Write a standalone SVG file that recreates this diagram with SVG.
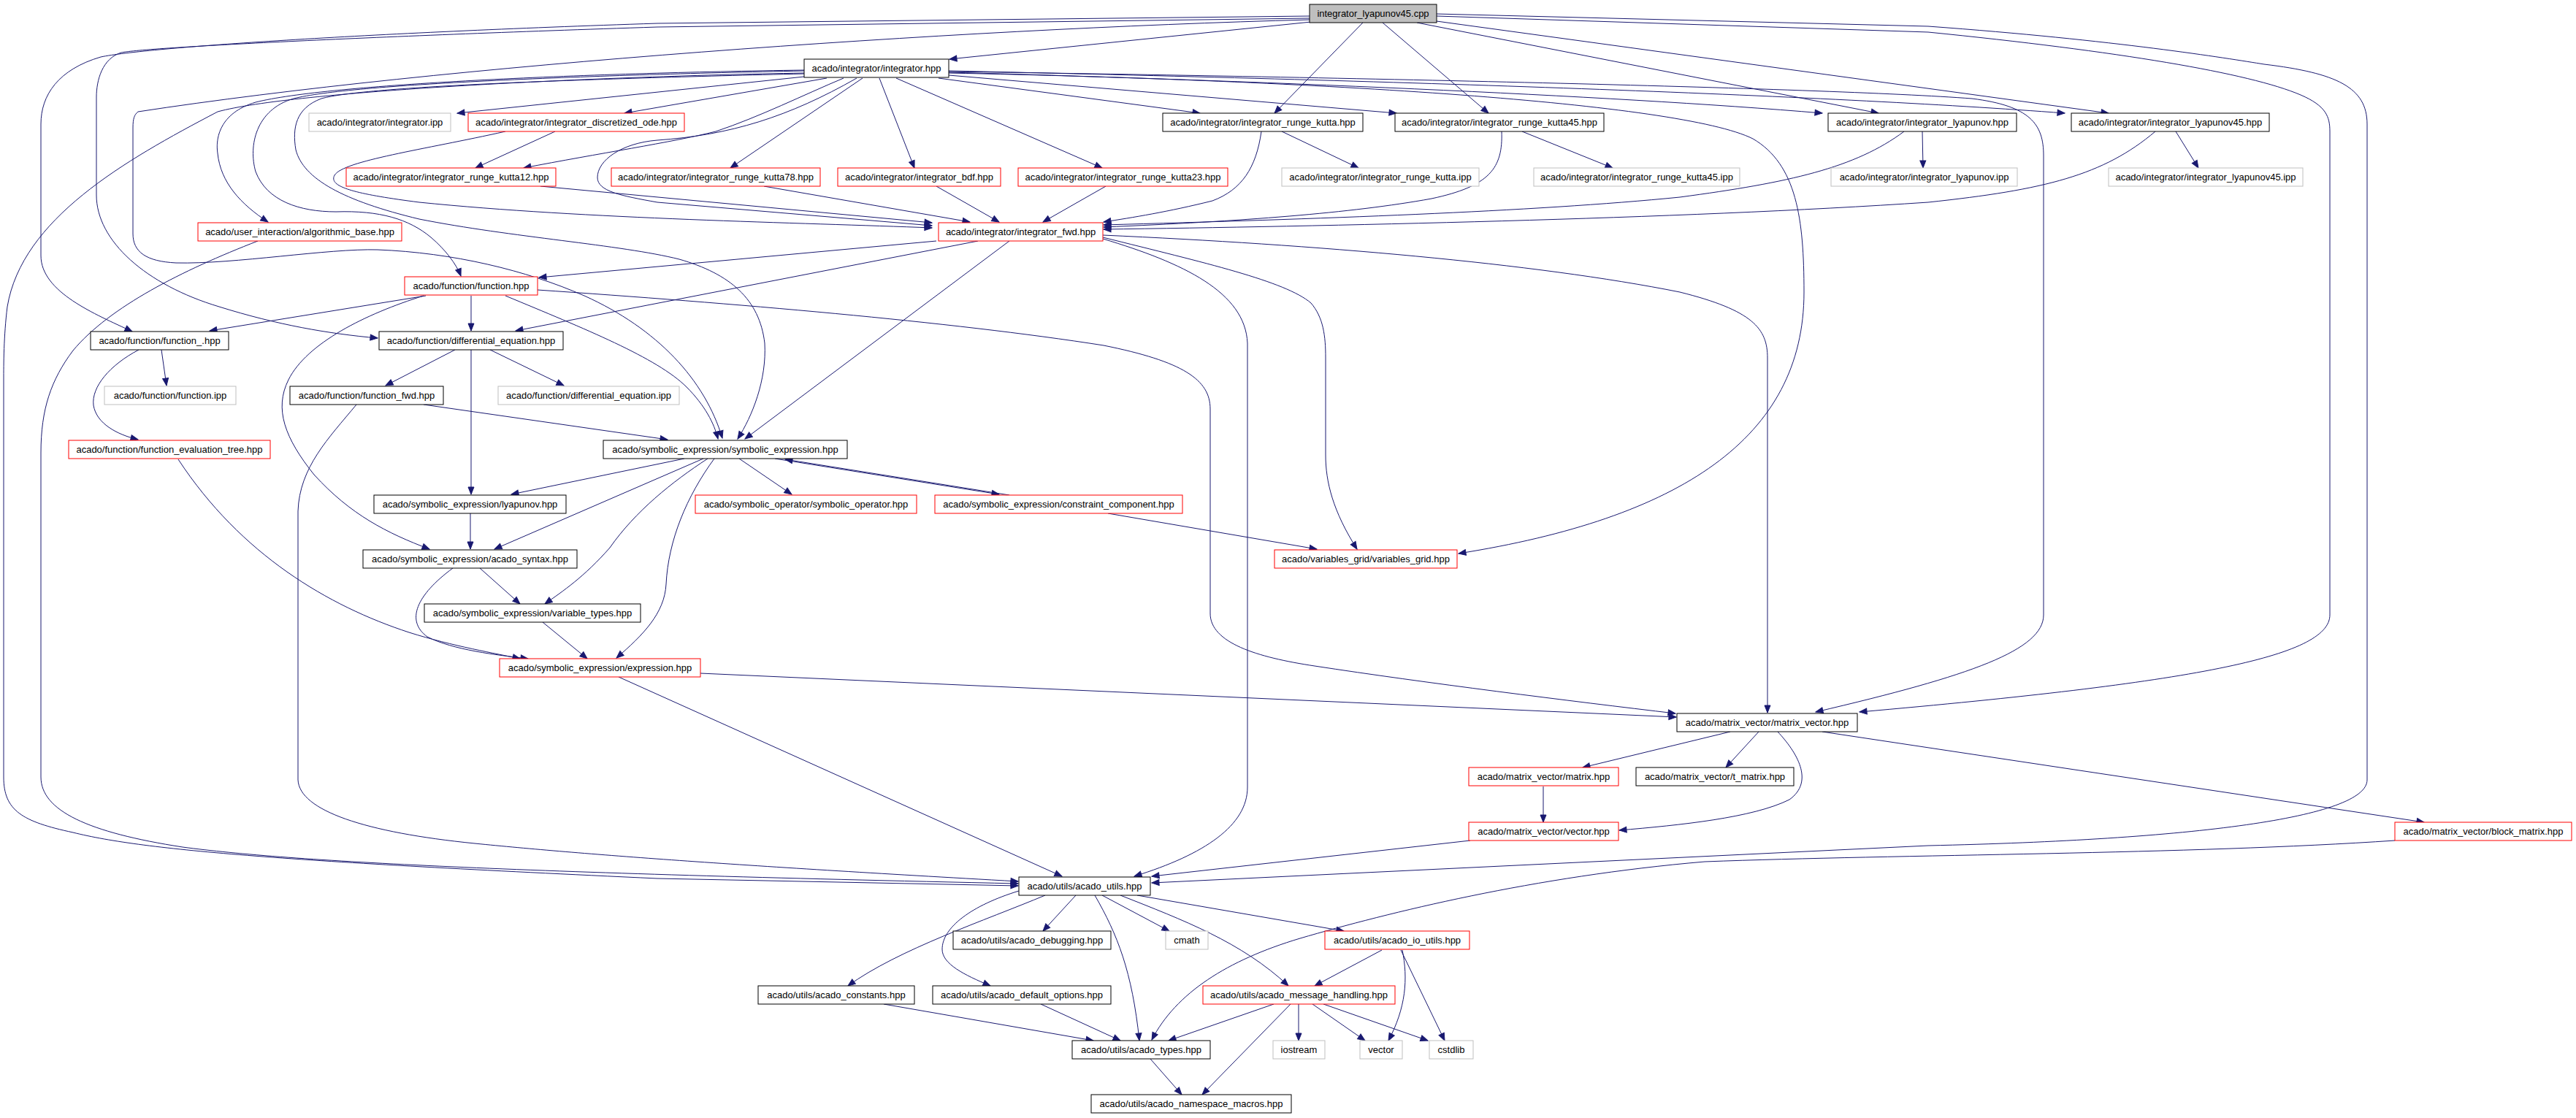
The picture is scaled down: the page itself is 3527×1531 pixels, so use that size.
<svg xmlns="http://www.w3.org/2000/svg" width="3527" height="1531" viewBox="0 0 3527 1531">
<defs>
<style>
.n rect{fill:#ffffff;stroke-width:1}
.nb rect{stroke:#000000}
.nr rect{stroke:#ff0000}
.ng rect{stroke:#bfbfbf}
.root rect{fill:#bfbfbf;stroke:#000000}
.n text{font-family:"Liberation Sans",Arial,sans-serif;font-size:13px;fill:#000000;text-anchor:middle}
#edges path{fill:none;stroke:#191970;stroke-width:1;marker-end:url(#a)}
</style>
<marker id="a" markerUnits="userSpaceOnUse" markerWidth="11" markerHeight="9" refX="10" refY="4" orient="auto" overflow="visible">
<path d="M0,0 L10,4 L0,8 Z" fill="#191970" stroke="#191970" stroke-width="1"/>
</marker>
</defs>
<rect width="3527" height="1531" fill="#ffffff"/>
<g id="edges">
<path d="M1795,30 L1300,81"/>
<path d="M1866,31 L1745,155"/>
<path d="M1893,31 L2038,155"/>
<path d="M1940,31 L2572,155"/>
<path d="M1967,29 L2887,155"/>
<path d="M1967,22 L2640,44 C2900,70 3080,100 3150,130 C3185,145 3190,160 3190,180 L3190,842 C3190,900 3000,935 2546,975"/>
<path d="M1967,19 L2640,36 C2900,55 3050,80 3100,88 C3200,100 3241,120 3241,170 L3241,1068 C3241,1120 3000,1150 2640,1158 L1577,1209"/>
<path d="M1793,22 L900,32 C500,45 200,65 138,78 C80,95 56,130 56,170 L56,350 C56,400 130,430 181,454"/>
<path d="M1793,25 L900,37 C500,50 200,65 166,72 C140,80 132,110 132,133 L132,267 C132,330 200,390 300,420 C380,445 450,457 517,463"/>
<path d="M1793,27 C1300,40 600,90 189,153 C184,157 182,162 182,175 L182,320 C182,345 200,358 241,360 C320,362 450,340 517,342 C620,346 720,370 800,405 C900,450 965,520 989,600"/>
<path d="M1101,105 L626,155"/>
<path d="M1132,107 L855,155"/>
<path d="M1155,107 C1100,130 1040,160 980,180 C920,195 820,210 717,230"/>
<path d="M1173,107 C1080,160 1000,185 900,192 C850,196 818,220 818,243 C818,262 850,268 900,277 L1276,309"/>
<path d="M1181,107 L1000,230"/>
<path d="M1204,107 L1252,230"/>
<path d="M1227,107 L1509,230"/>
<path d="M1285,107 L1643,155"/>
<path d="M1299,103 L1912,155"/>
<path d="M1299,99 C1700,110 2200,130 2495,155"/>
<path d="M1299,97 C1900,110 2500,130 2827,155"/>
<path d="M1299,98 C1800,105 2500,120 2700,135 C2780,145 2798,170 2798,213 L2798,842 C2798,890 2700,925 2486,975"/>
<path d="M1299,100 C1800,110 2300,140 2400,190 C2460,225 2470,300 2470,400 C2470,600 2300,710 1997,758"/>
<path d="M1101,96 C800,100 450,115 350,140 C300,155 295,190 298,210 C302,250 330,280 367,304"/>
<path d="M1101,97 C800,103 480,115 402,135 C350,150 340,200 350,235 C365,275 410,290 460,290 C520,288 560,300 590,325 C610,342 625,362 631,378"/>
<path d="M1101,101 C800,108 500,118 440,135 C405,148 400,175 405,205 C415,245 470,275 574,300 C700,325 850,335 930,355 C1000,375 1040,410 1047,470 C1050,520 1030,570 1010,601"/>
<path d="M1101,100 C800,105 400,125 298,153 C170,220 30,300 10,420 C5,460 5,500 5,520 L5,1064 C5,1110 30,1125 100,1140 C200,1165 400,1180 900,1203 L1394,1213"/>
<path d="M353,330 C250,370 150,420 100,480 C70,520 56,560 56,620 L56,1064 C56,1110 120,1140 250,1160 C400,1180 700,1195 1394,1210"/>
<path d="M488,554 C450,600 410,640 408,700 L408,1068 C410,1110 500,1140 650,1155 C800,1170 1000,1185 1394,1207"/>
<path d="M847,927 L1454,1200"/>
<path d="M1510,327 C1620,360 1705,400 1708,470 L1708,1078 C1708,1130 1650,1170 1553,1200"/>
<path d="M2013,1151 L1577,1200"/>
<path d="M692,405 C800,450 900,490 940,530 C965,555 978,580 983,601"/>
<path d="M1382,330 L1020,601"/>
<path d="M580,554 L914,602"/>
<path d="M1282,330 L738,380"/>
<path d="M1339,330 L706,453"/>
<path d="M692,180 C580,205 470,220 458,240 C450,255 480,265 574,277 C800,300 1100,305 1276,312"/>
<path d="M760,180 L651,230"/>
<path d="M740,255 L1276,305"/>
<path d="M1046,255 L1328,304"/>
<path d="M1282,255 L1368,304"/>
<path d="M1514,255 L1428,304"/>
<path d="M1727,180 C1720,230 1700,260 1660,275 C1600,290 1550,298 1511,304"/>
<path d="M2056,180 C2058,230 2040,255 1960,272 C1850,292 1700,303 1511,311"/>
<path d="M2607,180 C2540,230 2450,250 2300,270 C2100,290 1800,300 1511,308"/>
<path d="M2951,180 C2880,240 2800,260 2640,277 C2300,300 1800,310 1511,314"/>
<path d="M1755,180 L1860,230"/>
<path d="M2084,180 L2208,230"/>
<path d="M2632,180 L2633,230"/>
<path d="M2979,180 L3010,230"/>
<path d="M1510,325 C1650,360 1760,385 1795,415 C1812,435 1815,460 1815,490 L1815,623 C1815,660 1825,700 1858,752"/>
<path d="M1510,322 C1800,335 2100,360 2300,400 C2400,425 2420,450 2420,490 L2420,976"/>
<path d="M1517,703 L1803,752"/>
<path d="M736,397 C1000,415 1300,440 1511,473 C1620,495 1657,520 1657,560 L1657,840 C1657,880 1720,900 1800,912 C1950,935 2150,960 2294,977"/>
<path d="M959,922 L2295,982"/>
<path d="M583,405 L287,453"/>
<path d="M645,405 L645,453"/>
<path d="M580,405 C500,430 420,470 395,520 C375,560 390,600 430,650 C480,705 530,730 588,752"/>
<path d="M623,479 L528,528"/>
<path d="M645,479 L645,677"/>
<path d="M671,479 L772,528"/>
<path d="M221,479 L228,528"/>
<path d="M190,479 C150,500 125,530 128,555 C132,580 160,595 189,602"/>
<path d="M244,629 C330,760 450,830 560,866 C620,885 680,895 712,902"/>
<path d="M644,703 L644,752"/>
<path d="M937,628 L700,677"/>
<path d="M963,628 L677,752"/>
<path d="M969,628 C920,660 870,700 835,750 C800,790 770,810 746,827"/>
<path d="M978,628 C940,680 915,740 912,800 C910,840 880,870 844,901"/>
<path d="M1012,628 L1084,677"/>
<path d="M1061,628 L1368,677"/>
<path d="M1382,678 L1075,629"/>
<path d="M657,778 L712,827"/>
<path d="M620,778 C570,815 555,850 585,872 C620,890 680,897 723,902"/>
<path d="M743,852 L804,902"/>
<path d="M2369,1002 L2167,1051"/>
<path d="M2408,1002 L2363,1051"/>
<path d="M2434,1002 C2460,1030 2485,1070 2450,1095 C2400,1120 2300,1130 2217,1137"/>
<path d="M2495,1002 L3319,1126"/>
<path d="M2113,1077 L2113,1126"/>
<path d="M3279,1151 C3000,1170 2600,1170 2334,1180 C2100,1200 1900,1250 1780,1285 C1680,1315 1610,1360 1577,1424"/>
<path d="M1473,1226 L1428,1275"/>
<path d="M1509,1226 L1601,1275"/>
<path d="M1557,1226 L1840,1275"/>
<path d="M1431,1226 C1350,1260 1230,1300 1161,1350"/>
<path d="M1395,1220 C1330,1240 1290,1270 1290,1300 C1290,1320 1320,1335 1356,1350"/>
<path d="M1499,1226 C1530,1280 1550,1330 1560,1425"/>
<path d="M1534,1226 C1620,1260 1700,1290 1764,1350"/>
<path d="M1892,1301 L1800,1350"/>
<path d="M1920,1301 C1928,1340 1925,1380 1901,1425"/>
<path d="M1918,1301 L1978,1425"/>
<path d="M1744,1375 L1600,1425"/>
<path d="M1767,1375 L1646,1499"/>
<path d="M1778,1375 L1778,1425"/>
<path d="M1797,1375 L1869,1425"/>
<path d="M1812,1375 L1955,1425"/>
<path d="M1210,1375 L1497,1425"/>
<path d="M1425,1375 L1534,1425"/>
<path d="M1575,1450 L1618,1499"/>
</g>
<g id="n0" class="n root"><rect x="1793" y="6" width="174" height="25"/><text x="1880" y="23">integrator_lyapunov45.cpp</text></g>
<g id="n1" class="n nb"><rect x="1101" y="81" width="198" height="25"/><text x="1200" y="98">acado/integrator/integrator.hpp</text></g>
<g id="n2" class="n ng"><rect x="423" y="155" width="194" height="25"/><text x="520" y="172">acado/integrator/integrator.ipp</text></g>
<g id="n3" class="n nr"><rect x="641" y="155" width="296" height="25"/><text x="789" y="172">acado/integrator/integrator_discretized_ode.hpp</text></g>
<g id="n4" class="n nb"><rect x="1592" y="155" width="274" height="25"/><text x="1729" y="172">acado/integrator/integrator_runge_kutta.hpp</text></g>
<g id="n5" class="n nb"><rect x="1910" y="155" width="286" height="25"/><text x="2053" y="172">acado/integrator/integrator_runge_kutta45.hpp</text></g>
<g id="n6" class="n nb"><rect x="2503" y="155" width="258" height="25"/><text x="2632" y="172">acado/integrator/integrator_lyapunov.hpp</text></g>
<g id="n7" class="n nb"><rect x="2836" y="155" width="271" height="25"/><text x="2971.5" y="172">acado/integrator/integrator_lyapunov45.hpp</text></g>
<g id="n8" class="n nr"><rect x="474" y="230" width="287" height="25"/><text x="617.5" y="247">acado/integrator/integrator_runge_kutta12.hpp</text></g>
<g id="n9" class="n nr"><rect x="837" y="230" width="286" height="25"/><text x="980" y="247">acado/integrator/integrator_runge_kutta78.hpp</text></g>
<g id="n10" class="n nr"><rect x="1147" y="230" width="223" height="25"/><text x="1258.5" y="247">acado/integrator/integrator_bdf.hpp</text></g>
<g id="n11" class="n nr"><rect x="1394" y="230" width="287" height="25"/><text x="1537.5" y="247">acado/integrator/integrator_runge_kutta23.hpp</text></g>
<g id="n12" class="n ng"><rect x="1755" y="230" width="270" height="25"/><text x="1890" y="247">acado/integrator/integrator_runge_kutta.ipp</text></g>
<g id="n13" class="n ng"><rect x="2100" y="230" width="282" height="25"/><text x="2241" y="247">acado/integrator/integrator_runge_kutta45.ipp</text></g>
<g id="n14" class="n ng"><rect x="2507" y="230" width="255" height="25"/><text x="2634.5" y="247">acado/integrator/integrator_lyapunov.ipp</text></g>
<g id="n15" class="n ng"><rect x="2887" y="230" width="266" height="25"/><text x="3020" y="247">acado/integrator/integrator_lyapunov45.ipp</text></g>
<g id="n16" class="n nr"><rect x="271" y="305" width="279" height="25"/><text x="410.5" y="322">acado/user_interaction/algorithmic_base.hpp</text></g>
<g id="n17" class="n nr"><rect x="1285" y="305" width="225" height="25"/><text x="1397.5" y="322">acado/integrator/integrator_fwd.hpp</text></g>
<g id="n18" class="n nr"><rect x="554" y="379" width="182" height="25"/><text x="645" y="396">acado/function/function.hpp</text></g>
<g id="n19" class="n nb"><rect x="124" y="454" width="189" height="25"/><text x="218.5" y="471">acado/function/function_.hpp</text></g>
<g id="n20" class="n nb"><rect x="519" y="454" width="252" height="25"/><text x="645" y="471">acado/function/differential_equation.hpp</text></g>
<g id="n21" class="n ng"><rect x="143" y="529" width="180" height="25"/><text x="233" y="546">acado/function/function.ipp</text></g>
<g id="n22" class="n nb"><rect x="397" y="529" width="210" height="25"/><text x="502" y="546">acado/function/function_fwd.hpp</text></g>
<g id="n23" class="n ng"><rect x="682" y="529" width="248" height="25"/><text x="806" y="546">acado/function/differential_equation.ipp</text></g>
<g id="n24" class="n nr"><rect x="94" y="603" width="276" height="25"/><text x="232" y="620">acado/function/function_evaluation_tree.hpp</text></g>
<g id="n25" class="n nb"><rect x="826" y="603" width="334" height="25"/><text x="993" y="620">acado/symbolic_expression/symbolic_expression.hpp</text></g>
<g id="n26" class="n nb"><rect x="512" y="678" width="263" height="25"/><text x="643.5" y="695">acado/symbolic_expression/lyapunov.hpp</text></g>
<g id="n27" class="n nr"><rect x="952" y="678" width="303" height="25"/><text x="1103.5" y="695">acado/symbolic_operator/symbolic_operator.hpp</text></g>
<g id="n28" class="n nr"><rect x="1280" y="678" width="339" height="25"/><text x="1449.5" y="695">acado/symbolic_expression/constraint_component.hpp</text></g>
<g id="n29" class="n nb"><rect x="497" y="753" width="293" height="25"/><text x="643.5" y="770">acado/symbolic_expression/acado_syntax.hpp</text></g>
<g id="n30" class="n nr"><rect x="1745" y="753" width="250" height="25"/><text x="1870" y="770">acado/variables_grid/variables_grid.hpp</text></g>
<g id="n31" class="n nb"><rect x="581" y="827" width="296" height="25"/><text x="729" y="844">acado/symbolic_expression/variable_types.hpp</text></g>
<g id="n32" class="n nr"><rect x="684" y="902" width="275" height="25"/><text x="821.5" y="919">acado/symbolic_expression/expression.hpp</text></g>
<g id="n33" class="n nb"><rect x="2296" y="977" width="247" height="25"/><text x="2419.5" y="994">acado/matrix_vector/matrix_vector.hpp</text></g>
<g id="n34" class="n nr"><rect x="2011" y="1051" width="205" height="25"/><text x="2113.5" y="1068">acado/matrix_vector/matrix.hpp</text></g>
<g id="n35" class="n nb"><rect x="2240" y="1051" width="216" height="25"/><text x="2348" y="1068">acado/matrix_vector/t_matrix.hpp</text></g>
<g id="n36" class="n nr"><rect x="2011" y="1126" width="205" height="25"/><text x="2113.5" y="1143">acado/matrix_vector/vector.hpp</text></g>
<g id="n37" class="n nr"><rect x="3279" y="1126" width="242" height="25"/><text x="3400" y="1143">acado/matrix_vector/block_matrix.hpp</text></g>
<g id="n38" class="n nb"><rect x="1395" y="1201" width="180" height="25"/><text x="1485" y="1218">acado/utils/acado_utils.hpp</text></g>
<g id="n39" class="n nb"><rect x="1305" y="1275" width="216" height="25"/><text x="1413" y="1292">acado/utils/acado_debugging.hpp</text></g>
<g id="n40" class="n ng"><rect x="1596" y="1275" width="58" height="25"/><text x="1625" y="1292">cmath</text></g>
<g id="n41" class="n nr"><rect x="1814" y="1275" width="198" height="25"/><text x="1913" y="1292">acado/utils/acado_io_utils.hpp</text></g>
<g id="n42" class="n nb"><rect x="1038" y="1350" width="214" height="25"/><text x="1145" y="1367">acado/utils/acado_constants.hpp</text></g>
<g id="n43" class="n nb"><rect x="1277" y="1350" width="244" height="25"/><text x="1399" y="1367">acado/utils/acado_default_options.hpp</text></g>
<g id="n44" class="n nr"><rect x="1647" y="1350" width="263" height="25"/><text x="1778.5" y="1367">acado/utils/acado_message_handling.hpp</text></g>
<g id="n45" class="n nb"><rect x="1468" y="1425" width="189" height="25"/><text x="1562.5" y="1442">acado/utils/acado_types.hpp</text></g>
<g id="n46" class="n ng"><rect x="1743" y="1425" width="71" height="25"/><text x="1778.5" y="1442">iostream</text></g>
<g id="n47" class="n ng"><rect x="1862" y="1425" width="58" height="25"/><text x="1891" y="1442">vector</text></g>
<g id="n48" class="n ng"><rect x="1957" y="1425" width="60" height="25"/><text x="1987" y="1442">cstdlib</text></g>
<g id="n49" class="n nb"><rect x="1494" y="1499" width="274" height="25"/><text x="1631" y="1516">acado/utils/acado_namespace_macros.hpp</text></g>
</svg>
